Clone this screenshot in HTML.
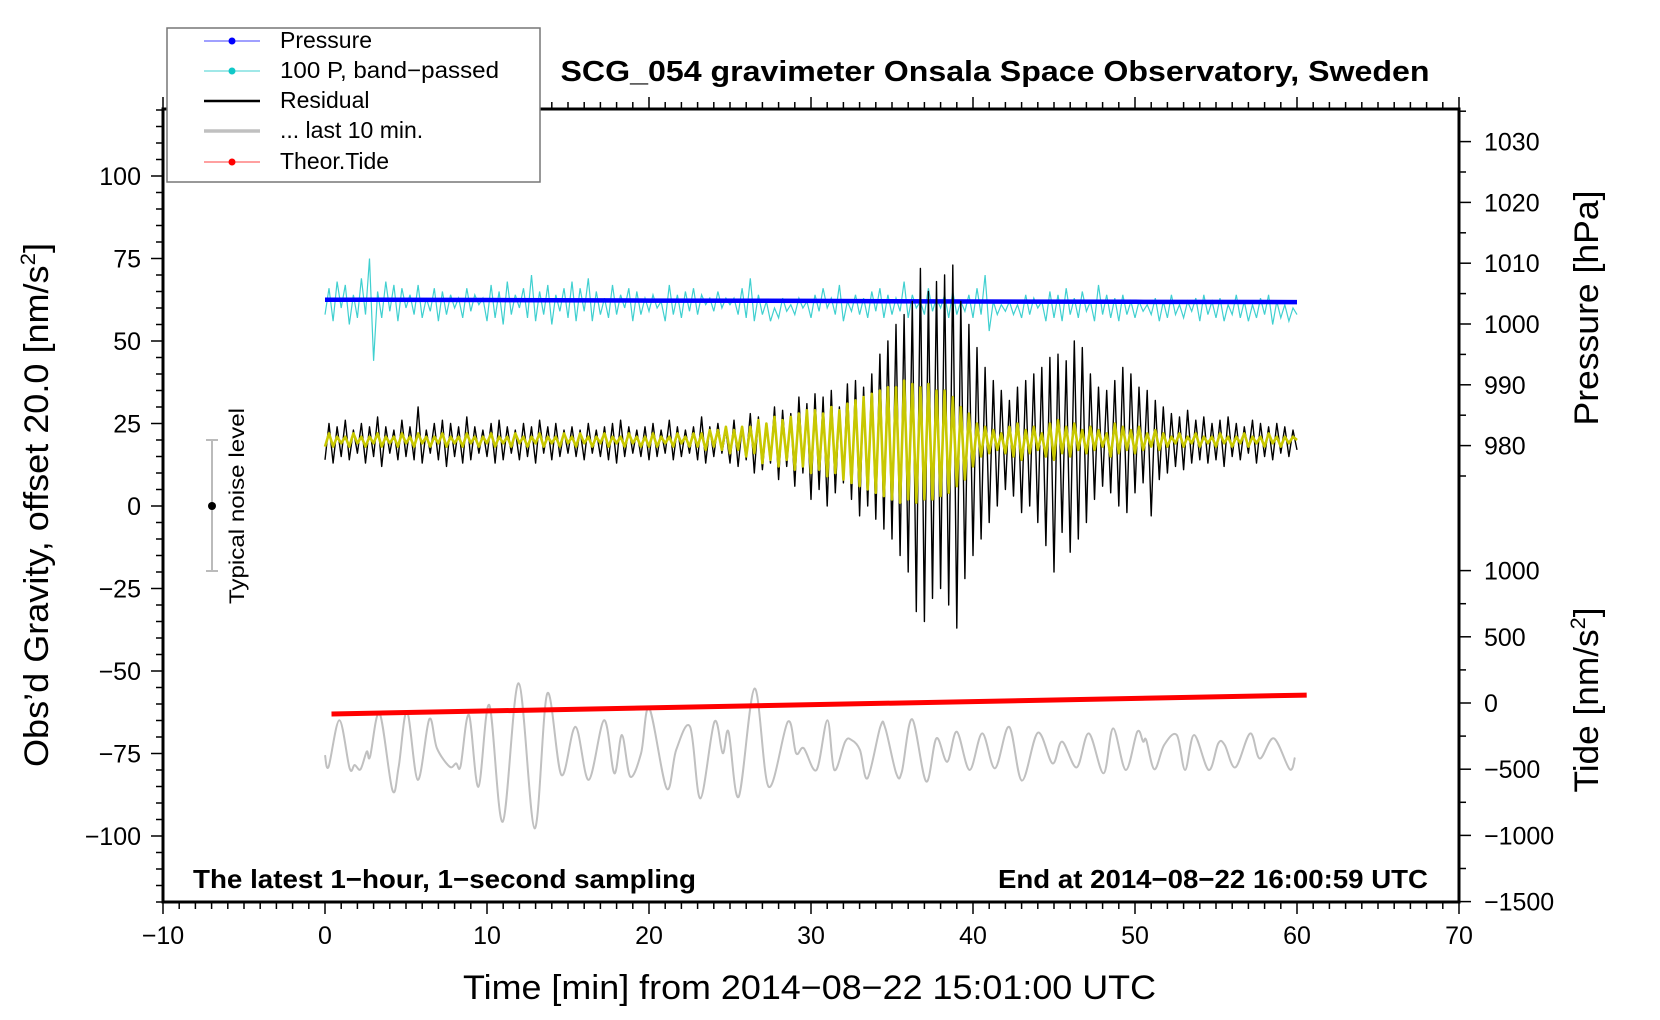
<!DOCTYPE html>
<html><head><meta charset="utf-8"><style>
html,body{margin:0;padding:0;background:#fff}
svg{display:block;font-family:"Liberation Sans",Arial,sans-serif}
</style></head><body>
<svg id="chart" width="1660" height="1020" viewBox="0 0 1660 1020">
<defs><clipPath id="plotclip"><rect x="163" y="109" width="1296" height="793"/></clipPath></defs>
<g id="series" clip-path="url(#plotclip)"></g>
<g id="axes"></g>
<text x="995" y="81" text-anchor="middle" font-weight="bold" font-size="29" textLength="869" lengthAdjust="spacingAndGlyphs">SCG_054 gravimeter Onsala Space Observatory, Sweden</text>
<text x="193" y="888" font-weight="bold" font-size="26" textLength="503" lengthAdjust="spacingAndGlyphs">The latest 1−hour, 1−second sampling</text>
<text x="998" y="888" font-weight="bold" font-size="26" textLength="430" lengthAdjust="spacingAndGlyphs">End at 2014−08−22 16:00:59 UTC</text>
<text transform="translate(48,505) rotate(-90)" text-anchor="middle" font-size="34" textLength="524" lengthAdjust="spacingAndGlyphs">Obs’d Gravity, offset 20.0 [nm/s<tspan dy="-13" font-size="21">2</tspan><tspan dy="13">]</tspan></text>
<text transform="translate(1598,308) rotate(-90)" text-anchor="middle" font-size="34" textLength="235" lengthAdjust="spacingAndGlyphs">Pressure [hPa]</text>
<text transform="translate(1598,700) rotate(-90)" text-anchor="middle" font-size="34" textLength="185" lengthAdjust="spacingAndGlyphs">Tide [nm/s<tspan dy="-13" font-size="21">2</tspan><tspan dy="13">]</tspan></text>
<text x="463" y="999" font-size="34" textLength="693" lengthAdjust="spacingAndGlyphs">Time [min] from 2014−08−22 15:01:00 UTC</text>
<g>
<line x1="212" y1="440" x2="212" y2="571" stroke="#bbb" stroke-width="2"/>
<line x1="206" y1="440" x2="218" y2="440" stroke="#bbb" stroke-width="2"/>
<line x1="206" y1="571" x2="218" y2="571" stroke="#bbb" stroke-width="2"/>
<circle cx="212" cy="506" r="4" fill="#000"/>
<text transform="translate(244,506) rotate(-90)" text-anchor="middle" font-size="21" textLength="196" lengthAdjust="spacingAndGlyphs">Typical noise level</text>
</g>
<g>
<rect x="167" y="28" width="373" height="154" fill="#fff" stroke="#777" stroke-width="1.5"/>
<g><line x1="204" y1="41" x2="260" y2="41" stroke="#4040ff" stroke-width="1"/><circle cx="232" cy="41" r="3.5" fill="#00f"/><text x="280" y="48" font-size="23">Pressure</text></g>
<g><line x1="204" y1="71" x2="260" y2="71" stroke="#40d0d0" stroke-width="1"/><circle cx="232" cy="71" r="3.5" fill="#10c8c8"/><text x="280" y="78" font-size="23" textLength="219" lengthAdjust="spacingAndGlyphs">100 P, band−passed</text></g>
<g><line x1="204" y1="101" x2="260" y2="101" stroke="#000" stroke-width="2.5"/><text x="280" y="108" font-size="23">Residual</text></g>
<g><line x1="204" y1="131" x2="260" y2="131" stroke="#c0c0c0" stroke-width="3.5"/><text x="280" y="138" font-size="23">... last 10 min.</text></g>
<g><line x1="204" y1="162" x2="260" y2="162" stroke="#ff4040" stroke-width="1"/><circle cx="232" cy="162" r="3.5" fill="#f00"/><text x="280" y="169" font-size="23">Theor.Tide</text></g>
</g>
</svg>
<script>
// ---- data ----
const STEP = 0.25; // minutes between samples in the sampled series
const cyanValues = [58,66,56,68,60,67,55,64,57,69,58,75,44,65,57,68,59,67,56,66,
60,64,58,67,57,63,59,66,56,65,58,64,60,63,57,66,59,64,61,63,
56,67,57,65,55,68,58,64,60,66,57,70,56,65,58,67,55,64,59,66,
57,68,56,66,59,69,56,65,58,63,57,67,58,64,60,66,56,65,58,63,
59,64,60,62,56,67,58,64,57,65,59,66,58,64,61,63,59,65,60,63,
61,63,58,66,57,69,56,64,58,62,56,60,57,63,59,61,58,63,60,62,
57,64,59,66,60,63,58,67,56,62,59,64,58,63,57,65,59,66,57,64,
58,63,59,68,57,64,60,62,58,66,59,63,60,64,57,65,58,62,59,64,
57,66,58,70,53,62,58,61,59,62,58,61,57,64,58,63,60,62,56,65,
57,64,56,66,58,63,57,65,59,62,56,67,58,64,57,63,56,64,58,62,
57,62,59,61,58,63,56,62,57,64,58,61,57,62,59,63,56,64,58,62,
57,63,56,61,58,64,57,62,56,61,57,63,58,64,55,62,57,61,56,60,58];
const residualValues = [14,25,13,24,15,26,14,23,16,25,13,24,15,27,12,24,16,23,14,26,
15,24,14,30,13,23,16,25,14,26,12,25,15,24,13,27,14,24,16,23,
15,25,13,26,14,24,16,23,14,25,15,24,13,26,16,24,14,25,15,23,
16,24,15,23,14,25,16,23,15,24,14,25,13,26,15,24,16,23,15,24,
14,25,15,23,16,26,14,24,15,23,16,24,14,27,13,24,15,25,16,23,
13,26,12,24,14,28,10,27,11,25,13,30,8,29,12,28,6,33,10,31,
2,34,5,33,0,35,4,30,7,37,2,38,-3,36,0,40,-4,46,-7,50,
-10,55,-15,58,-20,62,-32,72,-35,65,-28,68,-25,70,-30,73,-37,62,-22,55,
-15,48,-10,42,-5,38,0,35,5,32,3,36,-2,38,0,40,-5,42,-12,45,
-20,46,-8,44,-14,50,-10,48,-5,40,2,36,6,35,4,38,0,42,-2,40,
4,36,7,35,-3,32,8,30,10,28,12,27,11,29,13,26,14,27,13,25,
14,26,12,27,15,25,14,24,16,26,13,25,15,24,14,25,16,24,15,23,17];
const filteredValues = [18,22,18,21,19,21,18,22,19,21,18,21,19,22,18,21,19,21,18,22,
19,21,18,22,19,21,18,21,19,22,18,21,19,21,18,22,19,21,18,21,
19,22,18,21,19,21,18,22,19,21,18,21,19,22,18,21,19,21,18,22,
19,21,18,22,19,21,18,21,19,22,18,21,19,21,18,22,19,21,18,21,
18,22,18,21,19,21,18,22,19,21,18,22,18,22,17,23,18,23,17,24,
16,23,17,24,15,24,16,26,13,25,14,27,12,26,14,27,11,28,12,29,
10,29,11,28,9,30,10,29,8,31,7,32,6,33,5,34,4,35,3,36,
2,36,1,38,2,37,1,36,2,37,2,35,3,35,4,33,6,30,8,28,
12,25,15,24,16,23,17,22,16,24,15,25,14,23,16,24,17,22,15,25,
14,26,16,24,15,25,17,23,16,24,17,23,18,22,15,25,16,24,17,23,
16,24,17,22,18,23,17,22,18,21,19,22,18,21,19,22,18,21,19,21,
18,22,19,21,18,21,19,22,18,21,19,21,18,22,19,21,18,21,19,21,20];
const grayTimes = [0,0.22,0.89,1.52,1.83,2.19,2.58,2.78,3.37,4.16,4.55,5.06,5.73,6.44,6.91,7.7,8.09,8.37,8.88,9.47,10.14,10.97,11.95,12.94,13.72,14.59,15.46,16.28,17.23,17.86,18.33,18.84,19.51,20.02,21.09,21.68,22.54,23.17,24.04,24.55,24.91,25.54,26.52,27.39,28.57,29.08,29.55,30.34,31.01,31.44,32.11,32.5,33.02,33.49,34.28,34.59,35.26,35.61,36.24,37.11,37.74,38.41,39,39.79,40.57,41.36,42.23,43.02,44,44.91,45.5,46.4,47.15,48.06,48.65,49.43,50.14,50.5,50.69,51.2,51.8,52.58,53.09,53.65,54.55,55.14,55.54,56.2,57.11,57.7,58.57,59.55,59.87];
const grayValues = [-75.5,-79,-64.9,-79.5,-78.5,-79.8,-74.4,-76,-62.8,-86.1,-79,-62.3,-83,-64.6,-73.4,-79,-78,-78.8,-63.3,-85.1,-60.3,-95.7,-53.7,-97.7,-56.8,-81.5,-66.9,-83,-64.9,-81,-69.4,-82,-74.9,-61.3,-85.6,-73.9,-66.9,-88.6,-65.4,-74.9,-68.4,-88.1,-55.3,-85.1,-65.4,-74.9,-73.4,-80,-64.9,-80,-71.4,-70.9,-73.9,-82.5,-66.9,-67.4,-81,-80.5,-64.6,-83.5,-70.4,-77.5,-68.4,-80,-68.9,-79.5,-66.9,-83.2,-68.7,-78,-71.4,-79.2,-68.9,-81,-67.4,-80,-68.4,-71.4,-70.9,-79.8,-72.4,-69.4,-80,-69.4,-80,-71.9,-72.4,-79.2,-68.9,-76.5,-70.4,-79.8,-76.2];
const pressureTimes = [0,10,20,30,40,50,60];
const pressureValues = [1004.0,1003.95,1003.85,1003.8,1003.7,1003.65,1003.6];
const tideTimes = [0.4,60.6];
const tideValues = [-83,60];
const xTicks = [-10,0,10,20,30,40,50,60,70];
const gTicks = [-100,-75,-50,-25,0,25,50,75,100];
const pTicks = [980,990,1000,1010,1020,1030];
const tTicks = [-1500,-1000,-500,0,500,1000];

// ---- scales ----
const xS = t => 163 + (t + 10) * 16.2;
const yG = g => 506 - g * 3.3;
const yP = p => 324 - (p - 1000) * 6.08;
const yT = v => 703 - v * 0.1324;
const NS = 'http://www.w3.org/2000/svg';
const series = document.getElementById('series');
const axes = document.getElementById('axes');
function mk(tag, attrs, parent){const e=document.createElementNS(NS,tag);for(const k in attrs)e.setAttribute(k,attrs[k]);parent.appendChild(e);return e;}
function poly(xs, ys){return xs.map((x,i)=>x.toFixed(1)+','+ys[i].toFixed(1)).join(' ');}

let p = mk('polyline',{points:poly(cyanValues.map((v,i)=>xS(i*STEP)),cyanValues.map(v=>yG(v))),fill:'none',stroke:'#40d0d0','stroke-width':1.2},series);


p = mk('polyline',{points:poly(pressureTimes.map(xS),pressureValues.map(yP)),fill:'none',stroke:'#0000ff','stroke-width':4.5},series);


p = mk('polyline',{points:poly(residualValues.map((v,i)=>xS(i*STEP)),residualValues.map(v=>yG(v))),fill:'none',stroke:'#000','stroke-width':1.4,'stroke-linejoin':'round'},series);


p = mk('polyline',{points:poly(filteredValues.map((v,i)=>xS(i*STEP)),filteredValues.map(v=>yG(v))),fill:'none',stroke:'#c8c800','stroke-width':2.6,'stroke-linejoin':'round'},series);


(function(){
  const X = grayTimes.map(xS), Y = grayValues.map(yG);
  let d = 'M'+X[0].toFixed(1)+','+Y[0].toFixed(1);
  for(let i=0;i<X.length-1;i++){
    const x0=X[Math.max(i-1,0)],y0=Y[Math.max(i-1,0)],x1=X[i],y1=Y[i],x2=X[i+1],y2=Y[i+1],x3=X[Math.min(i+2,X.length-1)],y3=Y[Math.min(i+2,X.length-1)];
    d+=' C'+(x1+(x2-x0)/6).toFixed(1)+','+(y1+(y2-y0)/6).toFixed(1)+' '+(x2-(x3-x1)/6).toFixed(1)+','+(y2-(y3-y1)/6).toFixed(1)+' '+x2.toFixed(1)+','+y2.toFixed(1);
  }
  const g = mk('path',{d:d,fill:'none',stroke:'#c0c0c0','stroke-width':2},series);
  
  
})();
p = mk('polyline',{points:poly(tideTimes.map(xS),tideValues.map(yT)),fill:'none',stroke:'#ff0000','stroke-width':5},series);



// ---- axes ----
const L=163,R=1459,T=109,B=902;
mk('rect',{x:L,y:T,width:R-L,height:B-T,fill:'none',stroke:'#000','stroke-width':3},axes);
for(let t=-10;t<=70;t++){const x=xS(t),len=(t%10===0)?12:7;
  mk('line',{x1:x,y1:B,x2:x,y2:B+len,stroke:'#000','stroke-width':1.5},axes);
  mk('line',{x1:x,y1:T,x2:x,y2:T-len,stroke:'#000','stroke-width':1.5},axes);}
xTicks.forEach(t=>{const e=mk('text',{x:xS(t),y:944,'text-anchor':'middle','font-size':25},axes);e.textContent=String(t).replace('-','−');
  
  });
for(let g=-120;g<=120;g+=5){const y=yG(g),len=(g%25===0)?12:7;mk('line',{x1:L,y1:y,x2:L-len,y2:y,stroke:'#000','stroke-width':1.5},axes);}
gTicks.forEach(g=>{const e=mk('text',{x:141,y:yG(g)+9,'text-anchor':'end','font-size':25},axes);e.textContent=String(g).replace('-','−');
  
  });
for(let v=975;v<=1035;v+=5){const y=yP(v),len=(v%10===0)?12:7;mk('line',{x1:R,y1:y,x2:R+len,y2:y,stroke:'#000','stroke-width':1.5},axes);}
pTicks.forEach(v=>{const e=mk('text',{x:1484,y:yP(v)+9,'font-size':25},axes);e.textContent=v;
  
  });
for(let v=-1500;v<=1000;v+=250){const y=yT(v),len=(v%500===0)?12:7;mk('line',{x1:R,y1:y,x2:R+len,y2:y,stroke:'#000','stroke-width':1.5},axes);}
tTicks.forEach(v=>{const e=mk('text',{x:1484,y:yT(v)+9,'font-size':25},axes);e.textContent=String(v).replace('-','−');
  
  });
</script>
</body></html>
